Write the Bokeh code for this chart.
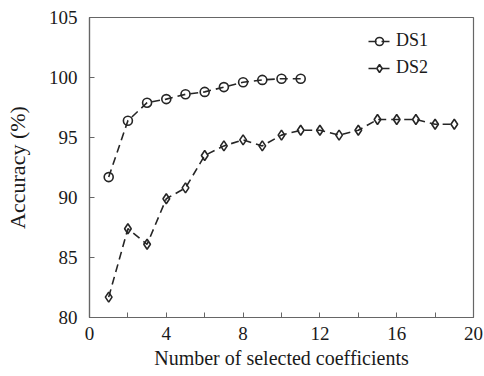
from bokeh.plotting import figure
from bokeh.models import FixedTicker, Range1d, Legend, LegendItem
from bokeh.embed import file_html
from bokeh.resources import INLINE

ds1_x = [1, 2, 3, 4, 5, 6, 7, 8, 9, 10, 11]
ds1_y = [91.7, 96.4, 97.9, 98.2, 98.6, 98.8, 99.2, 99.6, 99.8, 99.9, 99.9]
ds2_x = [1, 2, 3, 4, 5, 6, 7, 8, 9, 10, 11, 12, 13, 14, 15, 16, 17, 18, 19]
ds2_y = [81.7, 87.4, 86.1, 89.9, 90.8, 93.5, 94.3, 94.8, 94.3, 95.2, 95.6,
         95.6, 95.2, 95.6, 96.5, 96.5, 96.5, 96.1, 96.1]
x_ticks = [0, 4, 8, 12, 16, 20]
x_minor = [2, 6, 10, 14, 18]
y_ticks = [80, 85, 90, 95, 100, 105]
x_title = "Number of selected coefficients"
y_title = "Accuracy (%)"

FONT = "Liberation Serif"
AX = "#666666"
INK = "#262626"
TXT = "#1a1a1a"

p = figure(width=484, height=376, output_backend="svg", toolbar_location=None,
           x_range=Range1d(0, 20), y_range=Range1d(80, 105),
           min_border_left=89, min_border_right=11, min_border_top=17, min_border_bottom=59)
p.background_fill_color = "white"
p.border_fill_color = "white"
p.grid.visible = False
p.outline_line_color = AX
p.outline_line_width = 1.2

for ax in (p.xaxis[0], p.yaxis[0]):
    ax.axis_line_color = AX
    ax.axis_line_width = 1.2
    ax.major_tick_in = 5
    ax.major_tick_out = 0
    ax.minor_tick_in = 5
    ax.minor_tick_out = 0
    ax.major_tick_line_color = AX
    ax.minor_tick_line_color = AX
    ax.major_label_text_font = FONT
    ax.major_label_text_font_size = "19px"
    ax.major_label_text_color = TXT
    ax.axis_label_text_font = FONT
    ax.axis_label_text_font_style = "normal"
    ax.axis_label_text_color = TXT

p.xaxis[0].ticker = FixedTicker(ticks=x_ticks, minor_ticks=x_minor)
p.yaxis[0].ticker = FixedTicker(ticks=y_ticks, minor_ticks=[])
p.xaxis[0].major_label_standoff = 9
p.yaxis[0].major_label_standoff = 12
p.xaxis.axis_label = x_title
p.yaxis.axis_label = y_title
p.xaxis[0].axis_label_text_font_size = "20px"
p.yaxis[0].axis_label_text_font_size = "22px"
p.xaxis[0].axis_label_standoff = 4
p.yaxis[0].axis_label_standoff = 16

l1 = p.line(ds1_x, ds1_y, line_color=INK, line_width=1.6, line_dash="8 5")
m1 = p.scatter(ds1_x, ds1_y, marker="circle", size=9, line_color=INK,
               line_width=1.6, fill_alpha=0)
l2 = p.line(ds2_x, ds2_y, line_color=INK, line_width=1.6, line_dash="8 5")
m2 = p.scatter(ds2_x, ds2_y, marker="diamond", size=10, line_color=INK,
               line_width=1.6, fill_alpha=0)

legend = Legend(items=[LegendItem(label="DS1", renderers=[l1, m1]),
                       LegendItem(label="DS2", renderers=[l2, m2])],
                location=(279, 239))
legend.border_line_color = None
legend.background_fill_alpha = 0
legend.padding = 0
legend.margin = 0
legend.spacing = 6
legend.glyph_width = 22
legend.glyph_height = 20
legend.label_text_font = FONT
legend.label_text_font_size = "18px"
legend.label_text_color = TXT
legend.label_standoff = 6
p.add_layout(legend)

open("out.html", "w").write(file_html(p, INLINE))
